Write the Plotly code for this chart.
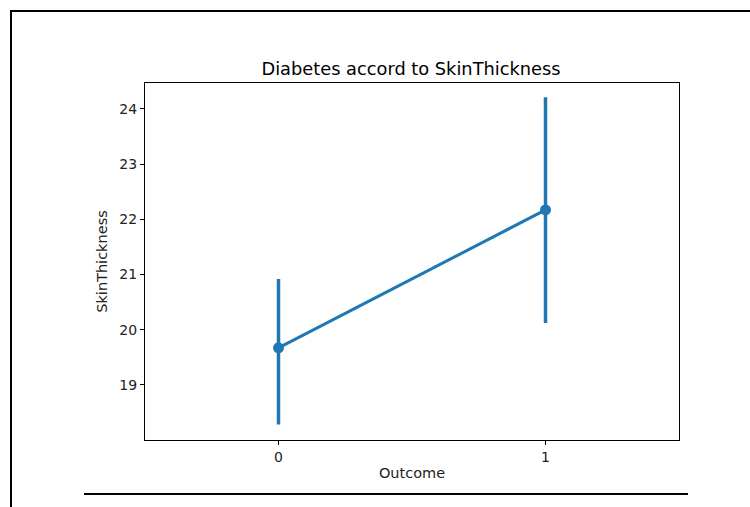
import plotly.graph_objects as go

categories = [0, 1]
means = [19.67, 22.17]
ci_low = [18.28, 20.12]
ci_high = [20.92, 24.21]

err_plus = [h - m for h, m in zip(ci_high, means)]
err_minus = [m - l for l, m in zip(ci_low, means)]

blue = "#1f77b4"
font = "DejaVu Sans"

fig = go.Figure()
fig.add_trace(go.Scatter(
    x=categories, y=means, mode="lines+markers",
    line=dict(color=blue, width=3),
    marker=dict(color=blue, size=11),
    error_y=dict(type="data", symmetric=False, array=err_plus, arrayminus=err_minus,
                 color=blue, thickness=3.5, width=0),
    showlegend=False,
))

L, R, T, B = 145, 71, 83, 67
W, H = 750, 507
pw, ph = W - L - R, H - T - B

def px(x):
    return (x - L) / pw

def py(y):
    return (H - B - y) / ph

fig.update_layout(
    width=W, height=H,
    margin=dict(l=L, r=R, t=T, b=B),
    paper_bgcolor="white", plot_bgcolor="white",
    font=dict(family=font, size=14, color="#222222"),
    title=dict(text="Diabetes accord to SkinThickness", x=411 / W, xanchor="center", xref="container",
               y=1 - 69 / H, yanchor="middle", font=dict(size=17.8, color="black")),
    xaxis=dict(range=[-0.5, 1.5], tickvals=categories, ticktext=[str(c) for c in categories],
               tickfont=dict(size=14),
               title=dict(text="Outcome", standoff=4, font=dict(size=14.5)), showgrid=False, zeroline=False,
               showline=True, linecolor="black", linewidth=1, mirror=True,
               ticks="outside", ticklen=4, tickcolor="black"),
    yaxis=dict(range=[18.0, 24.47], tickvals=[19, 20, 21, 22, 23, 24],
               tickfont=dict(size=14),
               title=dict(text="SkinThickness", standoff=8, font=dict(size=14.5)), showgrid=False, zeroline=False,
               showline=True, linecolor="black", linewidth=1, mirror=True,
               ticks="outside", ticklen=4, tickcolor="black"),
    shapes=[
        dict(type="line", xref="paper", yref="paper", x0=px(11), x1=px(11), y0=py(10), y1=py(510),
             line=dict(color="black", width=2)),
        dict(type="line", xref="paper", yref="paper", x0=px(10), x1=px(752), y0=py(11), y1=py(11),
             line=dict(color="black", width=2)),
        dict(type="line", xref="paper", yref="paper", x0=px(84), x1=px(688), y0=py(494), y1=py(494),
             line=dict(color="black", width=2)),
    ],
)

fig.write_html("out.html", config={"displayModeBar": False},
               post_script="document.body.style.margin='0';document.body.style.padding='0';")
